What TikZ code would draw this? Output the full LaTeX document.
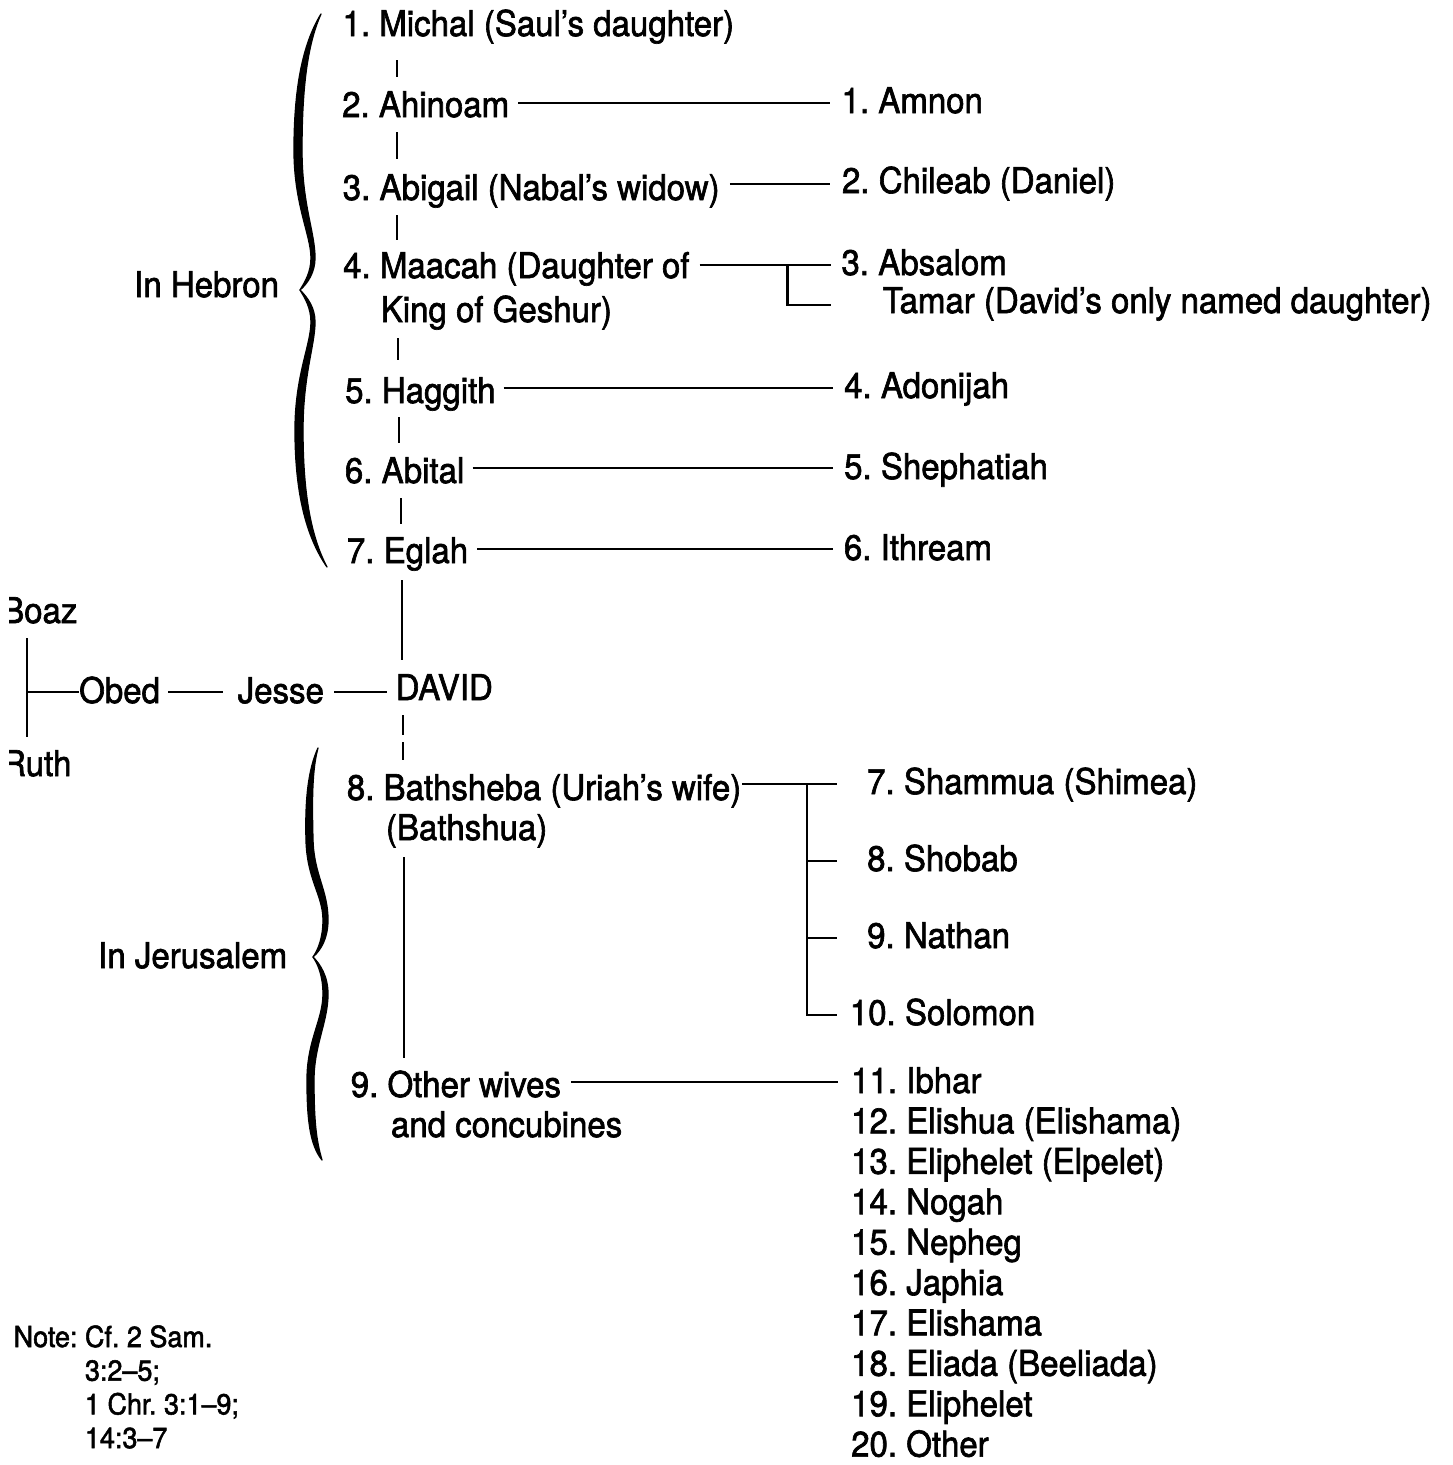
\documentclass[tikz,border=0pt]{standalone}
\usepackage{fontspec}
\setmainfont{TeX Gyre Heros}[FakeBold=1.8, FakeStretch=0.93]
\usetikzlibrary{calc}
\frenchspacing
\tikzset{
  lbl/.style={anchor=base west, inner sep=0pt, font=\fontsize{35.5}{40}\selectfont\frenchspacing},
  notelbl/.style={anchor=base west, inner sep=0pt, font=\fontsize{29}{33.7}\selectfont\frenchspacing},
  conn/.style={line width=2.7pt},
  bracefill/.style={fill=black, draw=black, line width=1.3pt, line join=round}
}
\newcommand\hconn[5]{\draw[conn] let \p1=([xshift=#3,yshift=#5]#1.base east), \p2=([xshift=-#4]#2.base west) in (\p1) -- (\x2,\y1);}
\newcommand\vconn[5]{\draw[conn] let \p1=(#1.base west), \p2=(#2.base west) in (\x1+#3,\y1-#4) -- (\x1+#3,\y2+#5);}
\begin{document}
\begin{tikzpicture}[x=1pt,y=-1pt]
\useasboundingbox (0,0) rectangle (1453,1465);
\fill[white] (0,0) rectangle (1453,1465);

% wives
\node[lbl] (michal) at (342.4,36) {1. Michal (Saul’s daughter)};
\node[lbl] (ahinoam) at (342,117) {2. Ahinoam};
\node[lbl] (abigail) at (342.6,200) {3. Abigail (Nabal’s widow)};
\node[lbl] (maacah) at (343,278) {4. Maacah (Daughter of};
\node[lbl] (maacah2) at (380.6,322) {King of Geshur)};
\node[lbl] (haggith) at (345,403) {5. Haggith};
\node[lbl] (abital) at (344.7,483) {6. Abital};
\node[lbl] (eglah) at (346.8,563) {7. Eglah};
\node[lbl] (david) at (395.5,700) {DAVID};
\node[lbl] (bathsheba) at (346.7,800) {8. Bathsheba (Uriah’s wife)};
\node[lbl] (bathsheba2) at (385.8,840) {(Bathshua)};
\node[lbl] (other) at (350.6,1097) {9. Other wives};
\node[lbl] (other2) at (390.8,1137) {and concubines};

% sons
\node[lbl] (amnon) at (841.4,113) {1. Amnon};
\node[lbl] (chileab) at (841.8,193) {2. Chileab (Daniel)};
\node[lbl] (absalom) at (841.3,275) {3. Absalom};
\node[lbl] (tamar) at (882.5,313) {Tamar (David’s only named daughter)};
\node[lbl] (adonijah) at (844,398) {4. Adonijah};
\node[lbl] (shephatiah) at (844,479) {5. Shephatiah};
\node[lbl] (ithream) at (843.7,560) {6. Ithream};
\node[lbl] (shammua) at (867,794) {7. Shammua (Shimea)};
\node[lbl] (shobab) at (867,871) {8. Shobab};
\node[lbl] (nathan) at (867,948) {9. Nathan};
\node[lbl] (solomon) at (849.7,1025) {10. Solomon};
\foreach \i/\t in {11/Ibhar,12/Elishua (Elishama),13/Eliphelet (Elpelet),14/Nogah,15/Nepheg,16/Japhia,17/Elishama,18/Eliada (Beeliada),19/Eliphelet,20/Other}
  \node[lbl] (s\i) at (851,{1093+40.4*(\i-11)}) {\i. \t};

% ancestors
\begin{scope}
\clip (9,580) rectangle (200,800);
\node[lbl] (boaz) at (2,623) {Boaz};
\node[lbl] (ruth) at (2,776) {Ruth};
\end{scope}
\node[lbl] (obed) at (79,703) {Obed};
\node[lbl] (jesse) at (237.5,703) {Jesse};

% group labels
\node[lbl] (hebron) at (134,297) {In Hebron};
\node[lbl] (jerusalem) at (98,968) {In Jerusalem};

% note
\node[notelbl] (note) at (13.5,1347) {\begin{tabular}[t]{@{}l@{\ }l@{}}Note: & Cf. 2 Sam.\\ & 3:2–5;\\ & 1 Chr. 3:1–9;\\ & 14:3–7\end{tabular}};

% vertical bars between wives
\vconn{michal}{ahinoam}{54.6pt}{24pt}{40pt}
\vconn{ahinoam}{abigail}{55pt}{15pt}{41pt}
\vconn{abigail}{maacah}{54.4pt}{15pt}{38pt}
\vconn{maacah2}{haggith}{17.4pt}{16pt}{43pt}
\vconn{haggith}{abital}{54pt}{14pt}{40pt}
\vconn{abital}{eglah}{56.3pt}{15pt}{39pt}
\vconn{eglah}{david}{55.2pt}{17pt}{40pt}
\draw[conn, dash pattern=on 20pt off 7pt] let \p1=(david.base west), \p2=(bathsheba.base west) in (\x1+7.5pt,\y1-15pt) -- (\x1+7.5pt,\y2+40pt);
\vconn{bathsheba2}{other}{18.2pt}{17pt}{39pt}

% wife -> son lines
\hconn{ahinoam}{amnon}{9pt}{11.5pt}{14pt}
\hconn{abigail}{chileab}{10pt}{12pt}{16pt}
\hconn{haggith}{adonijah}{8pt}{11pt}{15pt}
\hconn{abital}{shephatiah}{8pt}{11pt}{15pt}
\hconn{eglah}{ithream}{9pt}{11pt}{14pt}
\hconn{other}{s11}{10pt}{13pt}{15pt}
\hconn{obed}{jesse}{8pt}{14.5pt}{11pt}
\hconn{jesse}{david}{10pt}{8.5pt}{11pt}

% Maacah bracket
\draw[conn] let \p1=([xshift=10pt,yshift=13pt]maacah.base east), \p2=([xshift=-10pt]absalom.base west), \p3=(tamar.base west) in
  (\p1) -- (\x2,\y1)
  (\x2-44pt,\y1) -- (\x2-44pt,\y3+8pt) -- (\x2,\y3+8pt);

% Bathsheba bracket
\draw[conn] let \p1=([xshift=1pt,yshift=16pt]bathsheba.base east), \p2=([xshift=-30pt]shammua.base west), \p3=(shobab.base west), \p4=(nathan.base west), \p5=(solomon.base west) in
  (\p1) -- (\x2,\y1)
  (\x2-30pt,\y1) -- (\x2-30pt,\y5+10pt) -- (\x2,\y5+10pt)
  (\x2-30pt,\y3+10pt) -- (\x2,\y3+10pt)
  (\x2-30pt,\y4+10pt) -- (\x2,\y4+10pt);

% Boaz - Ruth - Obed
\draw[conn] let \p1=(boaz.base west), \p2=(ruth.base west), \p3=(obed.base west) in
  (\x1+25pt,\y1-15pt) -- (\x1+25pt,\y2+39pt)
  (\x1+25pt,\y3+11pt) -- (\x3,\y3+11pt);

% Hebron brace
\filldraw[bracefill] (321,14) .. controls (302,45) and (294,90) .. (294,150)
  .. controls (294,205) and (311,235) .. (311,258)
  .. controls (311,272) and (305,282) .. (300,290)
  .. controls (308,283) and (315,272) .. (315,258)
  .. controls (315,232) and (302,205) .. (302,150)
  .. controls (302,90) and (307,45) .. (321,14) -- cycle;
\filldraw[bracefill] (300,290) .. controls (305,298) and (311,308) .. (311,322)
  .. controls (311,345) and (295,375) .. (295,430)
  .. controls (295,490) and (305,535) .. (327,567)
  .. controls (310,535) and (303,490) .. (303,430)
  .. controls (303,375) and (315,345) .. (315,322)
  .. controls (315,308) and (308,298) .. (300,290) -- cycle;

% Jerusalem brace
\filldraw[bracefill] (318,748) .. controls (308,770) and (305,800) .. (306,840)
  .. controls (307,880) and (323,895) .. (323,920)
  .. controls (323,938) and (318,950) .. (313,957)
  .. controls (321,950) and (328,938) .. (328,920)
  .. controls (328,890) and (314,875) .. (313,840)
  .. controls (312,800) and (312,770) .. (318,748) -- cycle;
\filldraw[bracefill] (313,957) .. controls (318,964) and (323,976) .. (323,994)
  .. controls (323,1020) and (307,1040) .. (307,1080)
  .. controls (307,1120) and (310,1145) .. (322,1160)
  .. controls (316,1140) and (314,1120) .. (314,1080)
  .. controls (314,1045) and (328,1022) .. (328,994)
  .. controls (328,976) and (320,964) .. (313,957) -- cycle;
\end{tikzpicture}
\end{document}
